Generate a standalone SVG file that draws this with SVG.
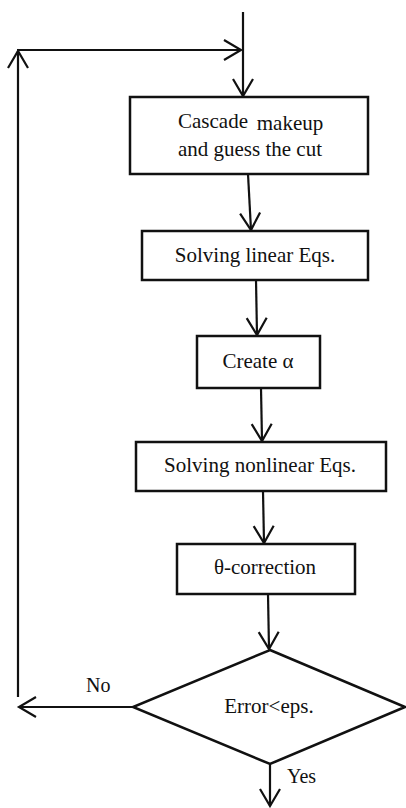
<svg xmlns="http://www.w3.org/2000/svg" width="406" height="808" viewBox="0 0 406 808">
<style>
.box{fill:#fff;stroke:#111;stroke-width:2.5}
.ln{fill:none;stroke:#111;stroke-width:2.2}
.t{font-family:"Liberation Serif","Times New Roman",serif;font-size:21px;fill:#111;text-anchor:middle}
.l{font-family:"Liberation Serif","Times New Roman",serif;font-size:20px;fill:#111}
</style>
<defs>
<marker id="ah" markerUnits="userSpaceOnUse" markerWidth="40" markerHeight="40" refX="0" refY="0" orient="auto" viewBox="-20 -20 40 40" overflow="visible">
<path d="M-17,-10 L0,0 L-17,10" fill="none" stroke="#111" stroke-width="2.2"/>
</marker>
</defs>
<rect width="406" height="808" fill="#fff"/>
<g id="connectors">
<path class="ln" d="M243,12 V96" marker-end="url(#ah)"/>
<path class="ln" d="M18,697 V51" marker-end="url(#ah)"/>
<path class="ln" d="M17,50 H241" marker-end="url(#ah)"/>
<path class="ln" d="M248,174 L251,230" marker-end="url(#ah)"/>
<path class="ln" d="M256,280 L257,335" marker-end="url(#ah)"/>
<path class="ln" d="M261,388 L262,441" marker-end="url(#ah)"/>
<path class="ln" d="M263,491 L264,543" marker-end="url(#ah)"/>
<path class="ln" d="M268,594 L269,649" marker-end="url(#ah)"/>
<path class="ln" d="M133,707 H19" marker-end="url(#ah)"/>
<path class="ln" d="M270,764 V806" marker-end="url(#ah)"/>
<text class="l" x="86" y="692">No</text>
<text class="l" x="287" y="783">Yes</text>
</g>
<g id="n1">
<rect class="box" x="130" y="97" width="238" height="77"/>
<text class="t" x="213" y="128">Cascade</text>
<text class="t" x="290" y="130" font-size="20">makeup</text>
<text class="t" x="250" y="156">and guess the cut</text>
</g>
<g id="n2">
<rect class="box" x="142" y="231" width="226" height="49"/>
<text class="t" x="255" y="262">Solving linear Eqs.</text>
</g>
<g id="n3">
<rect class="box" x="197" y="336" width="123" height="52"/>
<text class="t" x="258" y="368">Create α</text>
</g>
<g id="n4">
<rect class="box" x="136" y="442" width="250" height="49"/>
<text class="t" x="260" y="472">Solving nonlinear Eqs.</text>
</g>
<g id="n5">
<rect class="box" x="177" y="544" width="178" height="50"/>
<text class="t" x="265" y="574">θ-correction</text>
</g>
<g id="n6">
<polygon class="box" points="270,650 405,707 270,764 133,707"/>
<text class="t" x="269" y="713" font-size="20">Error&lt;eps.</text>
</g>
</svg>
